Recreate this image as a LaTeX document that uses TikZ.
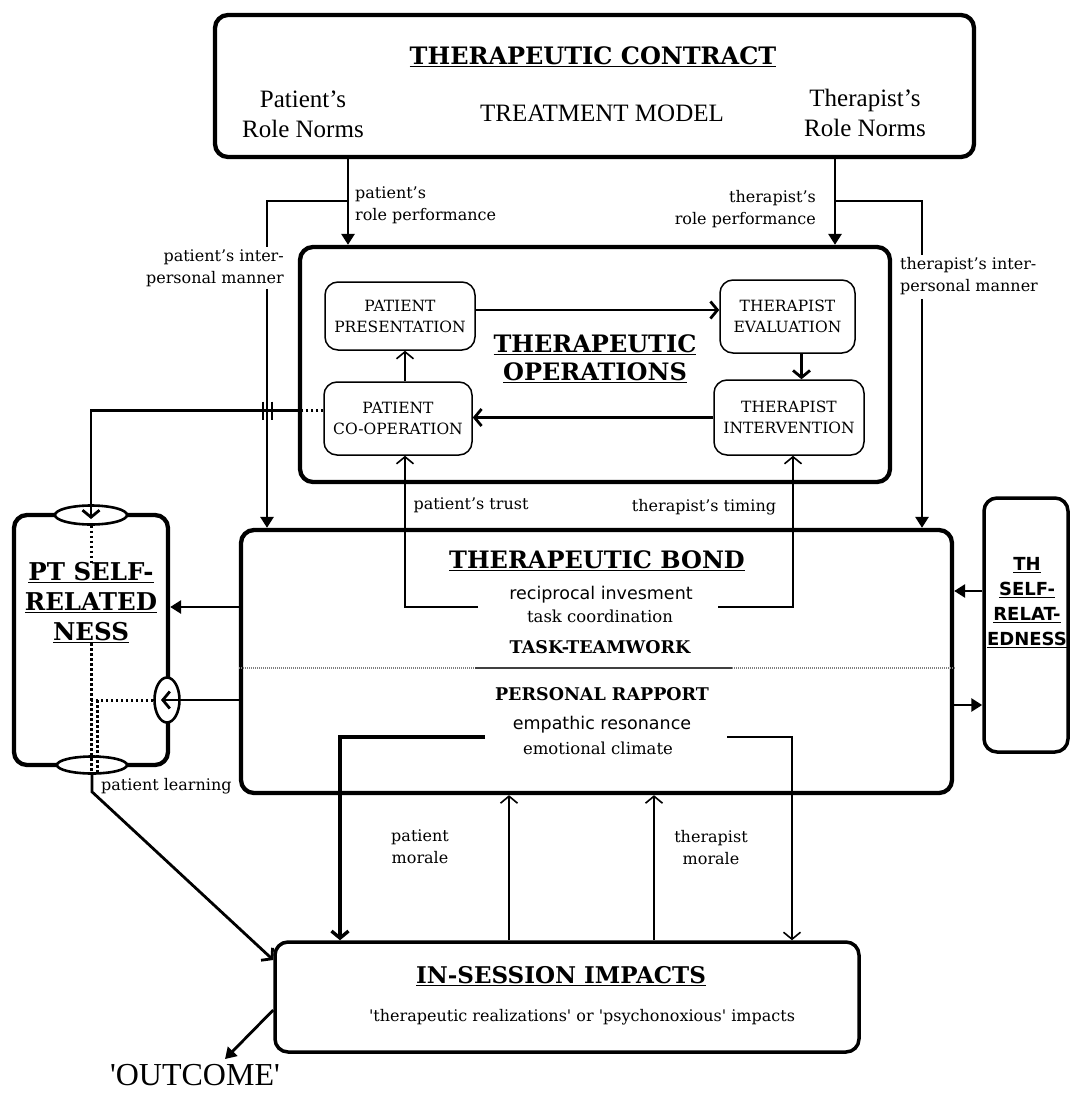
\documentclass[tikz,border=0pt]{standalone}
\usepackage{fontspec}
\setmainfont{DejaVu Serif}
\newfontfamily\dvserif{DejaVu Serif}
\newfontfamily\dvsans{DejaVu Sans}
\newfontfamily\libserif{Liberation Serif}
\usetikzlibrary{arrows.meta,shapes.geometric,calc}
\tikzset{
  bigbox/.style={draw, line width=4.3pt, rounded corners=13pt, inner sep=0pt},
  opbox/.style={draw, line width=1.5pt, rounded corners=13pt, inner sep=0pt, fill=white,
    font=\dvserif\fontsize{15.5}{21}\selectfont, align=center},
  ell/.style={ellipse, draw, fill=white, line width=2.6pt, inner sep=0pt},
  titletext/.style={font=\dvserif\bfseries\fontsize{24}{28}\selectfont, inner sep=0pt, align=center},
  normtext/.style={font=\libserif\fontsize{25}{30}\selectfont, inner sep=0pt, align=center},
  lbl/.style={font=\dvserif\fontsize{16}{22}\selectfont, inner sep=0pt},
  sanslbl/.style={font=\dvsans\fontsize{17.5}{20}\selectfont, inner sep=0pt},
  heavy/.style={font=\dvserif\bfseries\fontsize{17.5}{20}\selectfont, inner sep=0pt},
  pttext/.style={font=\dvserif\bfseries\fontsize{24.5}{30}\selectfont, inner sep=0pt, align=center},
  thtext/.style={font=\dvsans\bfseries\fontsize{18}{25}\selectfont, inner sep=0pt, align=center},
  med/.style={line width=2.8pt},
  thinl/.style={line width=1.6pt},
  thickl/.style={line width=3.4pt},
  dotline/.style={line width=3pt, dash pattern=on 2.5pt off 2.5pt},
  fa/.style={-{Triangle[length=11pt,width=13pt]}},
  oa/.style={-{Straight Barb[length=7pt,width=17pt]}},
}
\begin{document}
\begin{tikzpicture}[x=1pt,y=-1pt]
\useasboundingbox[fill=white] (0,0) rectangle (1070,1095);

% ---------- big boxes ----------
\node[bigbox, minimum width=759pt, minimum height=142pt] (contract) at (594.5,86) {};
\node[bigbox, minimum width=590pt, minimum height=235pt] (ops) at (595,364.5) {};
\node[bigbox, minimum width=711pt, minimum height=263pt] (bond) at (596.5,661.5) {};
\node[bigbox, minimum width=154pt, minimum height=250pt] (pt) at (91,640) {};
\node[bigbox, line width=3.5pt, minimum width=84pt, minimum height=254pt] (th) at (1026,625) {};
\node[bigbox, line width=3.5pt, minimum width=584pt, minimum height=110pt] (imp) at (567,997) {};

% ---------- contract texts ----------
\node[titletext] (tcon) at (593,57) {\underline{THERAPEUTIC CONTRACT}};
\node[normtext] (pnorm) at (303,114) {Patient’s\\Role Norms};
\node[normtext] (tmodel) at (602,113) {TREATMENT MODEL};
\node[normtext] (tnorm) at (865,113) {Therapist’s\\Role Norms};

% ---------- labels ----------
\node[lbl, anchor=west, align=left] (prp) at (355,205) {patient’s\\role performance};
\node[lbl, anchor=east, align=right] (trp) at (816,209) {therapist’s\\role performance};
\node[lbl, anchor=east, align=right] (pman) at (284,268) {patient’s inter-\\personal manner};
\node[lbl, anchor=west, align=left] (tman) at (900,276) {therapist’s inter-\\personal manner};

% ---------- operations ----------
\node[opbox, minimum width=150pt, minimum height=68pt] (pres) at (400,316) {PATIENT\\PRESENTATION};
\node[opbox, minimum width=135pt, minimum height=73pt] (eval) at (787.5,316.5) {THERAPIST\\EVALUATION};
\node[opbox, minimum width=150pt, minimum height=75pt] (int) at (789,417.5) {THERAPIST\\INTERVENTION};
\node[opbox, minimum width=148pt, minimum height=73pt] (coop) at (398,418.5) {PATIENT\\CO-OPERATION};
\node[titletext] (opt) at (595,359) {\underline{THERAPEUTIC}\\\underline{OPERATIONS}};

% ---------- bond texts ----------
\node[titletext] (bt) at (597,561) {\underline{THERAPEUTIC BOND}};
\node[sanslbl] (ri) at (601,595) {reciprocal invesment};
\node[lbl, font=\dvserif\fontsize{16.5}{20}\selectfont] (tc) at (600,616) {task coordination};
\node[heavy] (tt) at (600,647) {TASK-TEAMWORK};
\node[heavy] (pr) at (602,694) {PERSONAL RAPPORT};
\node[sanslbl] (er) at (602,725) {empathic resonance};
\node[lbl, font=\dvserif\fontsize{16.5}{20}\selectfont] (ec) at (598,748) {emotional climate};

\node[lbl] (ptrust) at (471,505) {patient’s trust};
\node[lbl] (ttim) at (704,507) {therapist’s timing};
\node[lbl, align=center] (pmor) at (420,847) {patient\\morale};
\node[lbl, align=center] (tmor) at (711,848) {therapist\\morale};
\node[lbl, anchor=west] (plearn) at (101,786) {patient learning};

% ---------- impacts ----------
\node[titletext, font=\dvserif\bfseries\fontsize{23}{28}\selectfont] (it) at (561,976) {\underline{IN-SESSION IMPACTS}};
\node[lbl, font=\dvserif\fontsize{16}{20}\selectfont] (isub) at (582,1017) {\textquotesingle therapeutic realizations\textquotesingle{} or \textquotesingle psychonoxious\textquotesingle{} impacts};
\node[font=\libserif\fontsize{32}{36}\selectfont, inner sep=0pt] (outc) at (195,1075) {\textquotesingle OUTCOME\textquotesingle};

% ---------- self-relatedness texts ----------
\node[pttext] (ptt) at (91,603) {\underline{PT SELF-}\\\underline{RELATED}\\\underline{NESS}};
\node[thtext] (tht) at (1027,603) {\underline{TH}\\\underline{SELF-}\\\underline{RELAT-}\\\underline{EDNESS}};

% ---------- coordinates ----------
\coordinate (xA) at (348,0);
\coordinate (xB) at (835,0);
\coordinate (xC) at (267,0);
\coordinate (xD) at (922,0);
\coordinate (yBr) at (0,201);
\coordinate (trS) at (478,607);
\coordinate (tiS) at (718,607);
\coordinate (emL) at (485,737);
\coordinate (emR) at (727,737);
\coordinate (xF) at (340,0);
\coordinate (xG) at (792,0);
\coordinate (xH) at (509,0);
\coordinate (xI) at (654,0);
\coordinate (yP) at (0,607);
\coordinate (yT1) at (0,591);
\coordinate (yT2) at (0,705);
\coordinate (d1) at (475,668);
\coordinate (d2) at (732,668);
\coordinate (fb) at ([yshift=8pt]coop.west);

% ---------- contract connectors ----------
\draw[med, fa] (contract.south -| xA) -- (ops.north -| xA);
\draw[med] (xA |- yBr) -| ([yshift=2pt]pman.north -| xC);
\draw[med, fa] ([yshift=-2pt]pman.south -| xC) -- (bond.north -| xC);
\draw[med, fa] (contract.south -| xB) -- (ops.north -| xB);
\draw[med] (xB |- yBr) -| ([yshift=2pt]tman.north -| xD);
\draw[med, fa] ([yshift=-4pt]tman.south -| xD) -- (bond.north -| xD);

% ---------- operations cycle ----------
\draw[med, oa] ([yshift=6pt]pres.east) -- ([yshift=6pt]pres.east -| eval.west);
\draw[med, oa] ([xshift=14pt]eval.south) -- ([xshift=14pt]eval.south |- int.north);
\draw[med, oa] (int.west) -- (int.west -| coop.east);
\draw[thinl, oa] ([xshift=7pt]coop.north) -- ([xshift=7pt]coop.north |- pres.south);

% ---------- bond to operations ----------
\draw[thinl, oa] (trS) -| ([xshift=7pt]coop.south);
\draw[thinl, oa] (tiS) -| ([xshift=4pt]int.south);

% ---------- bond / impacts ----------
\draw[thickl, oa] (emL) -| (xF |- imp.north);
\draw[thinl, oa] (emR) -| (xG |- imp.north);
\draw[thinl, oa] (xH |- imp.north) -- (xH |- bond.south);
\draw[thinl, oa] (xI |- imp.north) -- (xI |- bond.south);

% ---------- divider ----------
\draw[line width=1.6pt, gray, dash pattern=on 1pt off 1pt] (bond.west |- d1) -- (d1);
\draw[line width=1.6pt, black!75] (d1) -- (d2);
\draw[line width=1.6pt, gray, dash pattern=on 1pt off 1pt] (d2) -- (bond.east |- d2);

% ---------- TH connectors ----------
\draw[med, fa] (th.west |- yT1) -- (bond.east |- yT1);
\draw[med, fa] (bond.east |- yT2) -- (th.west |- yT2);

% ---------- PT ellipses ----------
\node[ell, minimum width=72pt, minimum height=19pt] (ptT) at (91,515) {};
\node[ell, minimum width=70pt, minimum height=17pt] (ptB) at (92,765) {};
\node[ell, minimum width=25pt, minimum height=45pt] (ptR) at (167,700) {};

% ---------- PT connectors ----------
\draw[med, fa] (bond.west |- yP) -- (pt.east |- yP);
\draw[med, oa] (bond.west |- ptR) -- ([xshift=-6pt]ptR.center);
\draw[med, dash pattern=on 2.5pt off 2.5pt] (fb) -- (fb -| ops.west);
\draw[med, oa] (fb -| ops.west) -| ([yshift=-4pt]ptT.center);
\draw[line width=1.4pt] ([xshift=-4pt,yshift=9pt]fb -| xC) -- ([xshift=-4pt,yshift=-9pt]fb -| xC);
\draw[line width=1.4pt] ([xshift=5pt,yshift=9pt]fb -| xC) -- ([xshift=5pt,yshift=-9pt]fb -| xC);

% dotted inner lines
\draw[dotline] (ptT.south) -- (ptt.north -| ptT.south);
\draw[dotline] (ptt.south -| ptT.south) -- (ptT.south |- ptB.south);
\draw[dotline] (ptR.west) -- (ptR.west -| ptT.south);
\draw[dotline] ([xshift=6pt]ptT.south |- ptR.west) -- ([xshift=6pt]ptT.south |- ptB.south);

% patient learning
\draw[med, oa] (ptB.south) -- ++(0,17) -- ([yshift=37pt]imp.west);

% outcome
\draw[med, fa] ([yshift=-13pt]imp.west) -- ([xshift=30pt,yshift=5pt]outc.north);
\end{tikzpicture}
\end{document}
